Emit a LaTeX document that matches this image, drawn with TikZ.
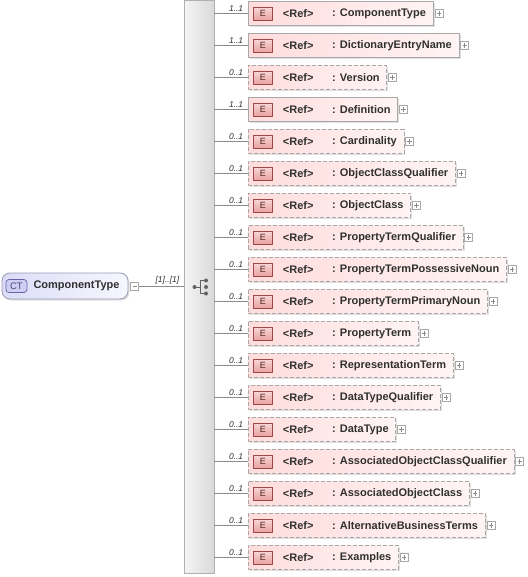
\documentclass[tikz,border=0pt]{standalone}
\usepackage{fontspec}
\setmainfont{Liberation Sans}
\usetikzlibrary{positioning,fit,backgrounds,shadows}

\definecolor{linegray}{HTML}{8C8C8C}
\definecolor{boxborder}{HTML}{A8A8A8}
\definecolor{elemleft}{HTML}{FFDCDC}
\definecolor{elemright}{HTML}{FFF4F4}
\definecolor{eicontop}{HTML}{F9D6D6}
\definecolor{eiconbot}{HTML}{E8A2A2}
\definecolor{eiconborder}{HTML}{A04848}
\definecolor{textdark}{HTML}{303030}
\definecolor{rootleft}{HTML}{DCDCF8}
\definecolor{rootright}{HTML}{F7F7FF}
\definecolor{rootborder}{HTML}{9A9AB8}
\definecolor{ctfill}{HTML}{CFCFF4}
\definecolor{ctborder}{HTML}{6464A8}
\definecolor{barleft}{HTML}{F5F5F5}
\definecolor{barright}{HTML}{D9D9D9}
\definecolor{barborder}{HTML}{B0B0B0}

\begin{document}
\begin{tikzpicture}[x=1pt,y=-1pt,
    link/.style={draw=linegray,line width=0.8pt},
    card/.style={font=\fontsize{8.5}{9}\selectfont\itshape,text=textdark,
                 inner xsep=4pt,inner ysep=1.5pt},
    elem/.style={inner sep=0pt,left color=elemleft,right color=elemright,
                 draw=boxborder,line width=0.8pt,
                 drop shadow={shadow xshift=1.5pt,shadow yshift=-1.5pt,
                              fill=black!12,opacity=1}},
    req/.style={solid},
    opt/.style={dash pattern=on 4pt off 2pt},
    elname/.style={font=\fontsize{11}{13}\selectfont\bfseries,text=textdark,
                   inner xsep=7pt,inner ysep=0pt,minimum height=24pt},
    refname/.style={font=\fontsize{11}{13}\selectfont\bfseries,text=textdark,
                    inner sep=0pt},
    eicon/.style={minimum width=19pt,minimum height=13pt,inner sep=0pt,
                  top color=eicontop,bottom color=eiconbot,draw=eiconborder,
                  line width=0.7pt,font=\fontsize{9}{10}\selectfont,
                  text=eiconborder!50!black},
    plusbox/.style={minimum size=8pt,inner sep=0pt,draw=boxborder,fill=white,
                    line width=0.6pt,
                    path picture={
                      \draw[linegray,line width=0.6pt]
                        ([xshift=1.8pt]path picture bounding box.west) --
                        ([xshift=-1.8pt]path picture bounding box.east);
                      \draw[linegray,line width=0.6pt]
                        ([yshift=-1.8pt]path picture bounding box.north) --
                        ([yshift=1.8pt]path picture bounding box.south);}},
    minusbox/.style={minimum size=8pt,inner sep=0pt,draw=boxborder,fill=white,
                     line width=0.6pt,
                     path picture={
                       \draw[linegray,line width=0.6pt]
                         ([xshift=1.8pt]path picture bounding box.west) --
                         ([xshift=-1.8pt]path picture bounding box.east);}},
    seqbar/.style={minimum width=30pt,minimum height=573pt,inner sep=0pt,
                   left color=barleft,right color=barright,draw=barborder,
                   line width=0.8pt},
    rootbox/.style={minimum width=126pt,minimum height=26pt,inner sep=0pt,
                    rounded corners=8pt,left color=rootleft,right color=rootright,
                    draw=rootborder,line width=0.8pt,
                    drop shadow={shadow xshift=1.5pt,shadow yshift=-1.5pt,
                                 fill=black!12,opacity=1}},
    cticon/.style={minimum width=21pt,minimum height=13pt,inner sep=0pt,
                   rounded corners=3pt,fill=ctfill,draw=ctborder,line width=0.7pt,
                   font=\fontsize{9.5}{10}\selectfont,text=ctborder!70!black},
    rootname/.style={font=\fontsize{11}{13}\selectfont\bfseries,text=textdark,
                     inner sep=0pt}]

  \useasboundingbox (0,0) rectangle (527,577);

  % sequence compositor
  \node[seqbar] (seq) at (199,287) {};
  \begin{scope}[shift={(seq.center)},linegray!70!black]
    \fill (-4.5,0) circle (2);
    \draw[line width=0.9pt] (-4.5,0) -- (1,0) (1,-6.5) -- (1,6.5)
                            (1,-6.5) -- (7,-6.5) (1,6.5) -- (7,6.5);
    \fill (7,-6.5) circle (2) (7,0) circle (2) (7,6.5) circle (2);
  \end{scope}

  % root complex type
  \node[rootbox] (root) at (65,286) {};
  \node[cticon, right=4pt of root.west] (ct) {CT};
  \node[rootname, right=6pt of ct] (rootlabel) {ComponentType};
  \node[minusbox, right=2pt of root] (minus) {};
  \draw[link] (minus) -- (seq.west |- minus)
    node[card, pos=1, anchor=south east] {[1]..[1]};

  % child elements
  \foreach \name/\card/\kind [count=\i] in {
      ComponentType/1..1/req, DictionaryEntryName/1..1/req,
      Version/0..1/opt, Definition/1..1/req, Cardinality/0..1/opt,
      ObjectClassQualifier/0..1/opt, ObjectClass/0..1/opt,
      PropertyTermQualifier/0..1/opt, PropertyTermPossessiveNoun/0..1/opt,
      PropertyTermPrimaryNoun/0..1/opt, PropertyTerm/0..1/opt,
      RepresentationTerm/0..1/opt, DataTypeQualifier/0..1/opt,
      DataType/0..1/opt, AssociatedObjectClassQualifier/0..1/opt,
      AssociatedObjectClass/0..1/opt, AlternativeBusinessTerms/0..1/opt,
      Examples/0..1/opt} {
    \coordinate (l\i) at (248,{13.5+32*(\i-1)});
    \node[elname, anchor=west] (n\i) at (325,{13.5+32*(\i-1)}) {: \name};
    \begin{scope}[on background layer]
      \node[elem, \kind, fit=(l\i) (n\i)] (e\i) {};
    \end{scope}
    \node[eicon, right=5pt of l\i] (i\i) {E};
    \node[refname, right=10pt of i\i] (r\i) {<Ref>};
    \node[plusbox, right=1pt of e\i] (p\i) {};
    \draw[link] (seq.east |- e\i.west) -- (e\i.west)
      node[card, pos=1, anchor=south east] {\card};
  }
\end{tikzpicture}
\end{document}
